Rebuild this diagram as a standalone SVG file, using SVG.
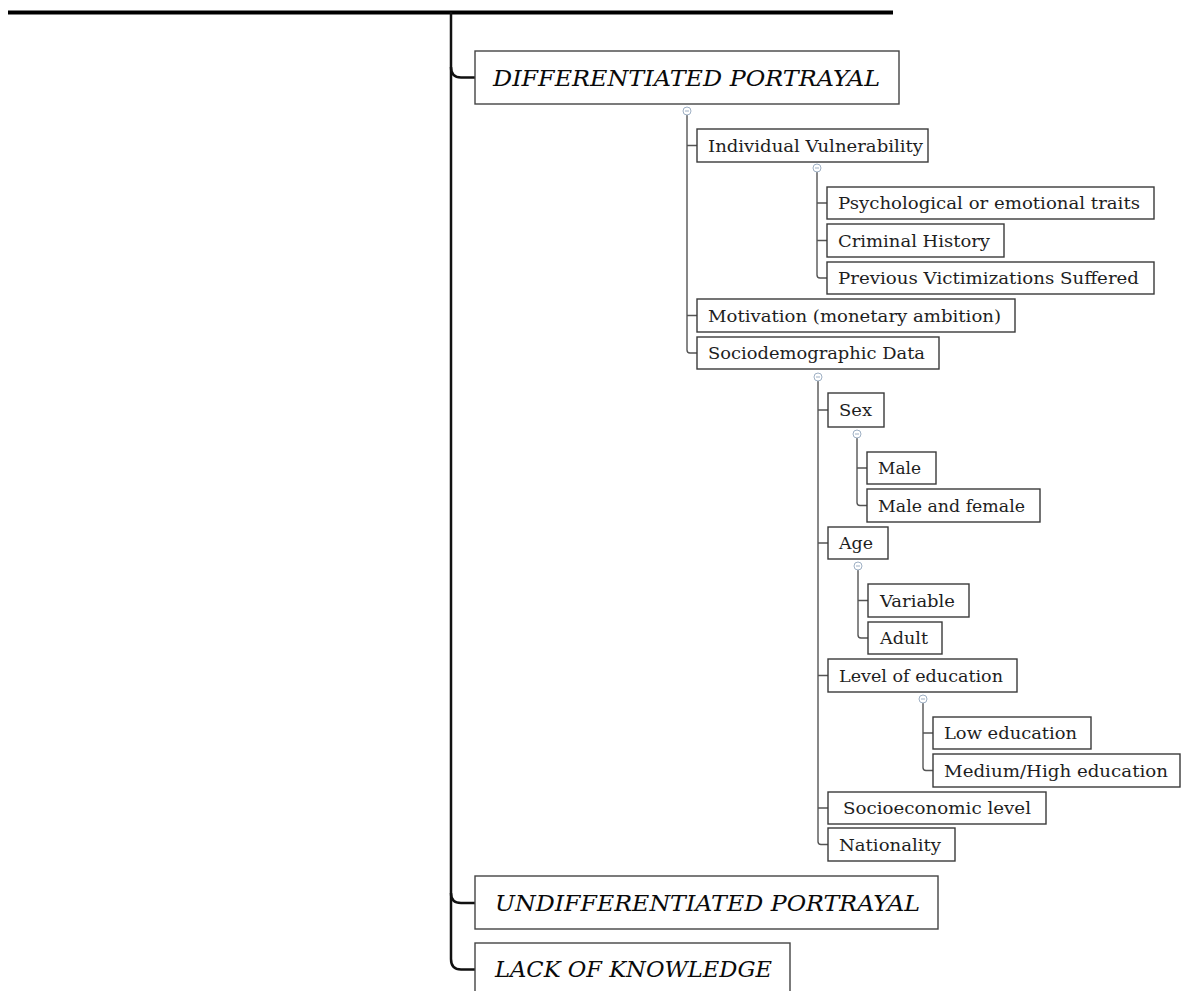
<svg xmlns="http://www.w3.org/2000/svg" width="1181" height="991" viewBox="0 0 1181 991">
<style>
.box{fill:#fff;stroke:#3a3a3a;stroke-width:1.4}
.big{fill:#fff;stroke:#444;stroke-width:1.4}
.t{font-family:"DejaVu Serif","Liberation Serif",serif;font-size:17px;fill:#1e1e1e}
.h{font-family:"DejaVu Serif","Liberation Serif",serif;font-size:23px;font-style:italic;fill:#0a0a0a}
.trunk{fill:none;stroke:#111;stroke-width:2.5}
.ln{fill:none;stroke:#555;stroke-width:1.4}
.cc{fill:#fff;stroke:#9fb0c4;stroke-width:1}
.cm{stroke:#9fb0c4;stroke-width:1}
</style>
<rect width="1181" height="991" fill="#fff"/>
<g id="connectors">
<line x1="8" y1="12.5" x2="893" y2="12.5" stroke="#000" stroke-width="4"/>
<path class="trunk" d="M451 12 V959 Q451 969.5 461 969.5 H475"/>
<path class="trunk" d="M451 67 Q451 77.5 461 77.5 H475"/>
<path class="trunk" d="M451 893 Q451 903 461 903 H475"/>
<path class="ln" d="M687 115 V350 Q687 353 690 353 H697 M687 145.5 H697 M687 315.5 H697"/>
<path class="ln" d="M817 172 V275 Q817 278 820 278 H827 M817 203 H827 M817 240.5 H827"/>
<path class="ln" d="M818 381 V841.5 Q818 844.5 821 844.5 H828 M818 410 H828 M818 543 H828 M818 675.5 H828 M818 808 H828"/>
<path class="ln" d="M857 438 V502.5 Q857 505.5 860 505.5 H867 M857 468 H867"/>
<path class="ln" d="M858 570 V635 Q858 638 861 638 H868 M858 600.5 H868"/>
<path class="ln" d="M923 703 V767.5 Q923 770.5 926 770.5 H933 M923 733 H933"/>
<g>
<circle class="cc" cx="687" cy="111" r="4"/><line class="cm" x1="685" y1="111" x2="689" y2="111"/>
<circle class="cc" cx="817" cy="168" r="4"/><line class="cm" x1="815" y1="168" x2="819" y2="168"/>
<circle class="cc" cx="818" cy="377" r="4"/><line class="cm" x1="816" y1="377" x2="820" y2="377"/>
<circle class="cc" cx="857" cy="434" r="4"/><line class="cm" x1="855" y1="434" x2="859" y2="434"/>
<circle class="cc" cx="858" cy="566" r="4"/><line class="cm" x1="856" y1="566" x2="860" y2="566"/>
<circle class="cc" cx="923" cy="699" r="4"/><line class="cm" x1="921" y1="699" x2="925" y2="699"/>
</g>
</g>
<g id="n-diff"><rect class="big" x="475" y="51" width="424" height="53"/><text class="h" x="493" y="86" textLength="387" lengthAdjust="spacingAndGlyphs">DIFFERENTIATED PORTRAYAL</text></g>
<g id="n-iv"><rect class="box" x="697" y="129" width="231" height="33"/><text class="t" x="708" y="151.5" textLength="215" lengthAdjust="spacingAndGlyphs">Individual Vulnerability</text></g>
<g id="n-psych"><rect class="box" x="827" y="187" width="327" height="32"/><text class="t" x="838" y="209" textLength="302" lengthAdjust="spacingAndGlyphs">Psychological or emotional traits</text></g>
<g id="n-crim"><rect class="box" x="827" y="224" width="177" height="33"/><text class="t" x="838" y="246.5" textLength="152" lengthAdjust="spacingAndGlyphs">Criminal History</text></g>
<g id="n-prev"><rect class="box" x="827" y="262" width="327" height="32"/><text class="t" x="838" y="284" textLength="301" lengthAdjust="spacingAndGlyphs">Previous Victimizations Suffered</text></g>
<g id="n-motiv"><rect class="box" x="697" y="299" width="318" height="33"/><text class="t" x="708" y="321.5" textLength="293" lengthAdjust="spacingAndGlyphs">Motivation (monetary ambition)</text></g>
<g id="n-socio"><rect class="box" x="697" y="337" width="242" height="32"/><text class="t" x="708" y="359" textLength="217" lengthAdjust="spacingAndGlyphs">Sociodemographic Data</text></g>
<g id="n-sex"><rect class="box" x="828" y="393" width="56" height="34"/><text class="t" x="839" y="416" textLength="33" lengthAdjust="spacingAndGlyphs">Sex</text></g>
<g id="n-male"><rect class="box" x="867" y="452" width="69" height="32"/><text class="t" x="878" y="474" textLength="43" lengthAdjust="spacingAndGlyphs">Male</text></g>
<g id="n-mf"><rect class="box" x="867" y="489" width="173" height="33"/><text class="t" x="878" y="511.5" textLength="147" lengthAdjust="spacingAndGlyphs">Male and female</text></g>
<g id="n-age"><rect class="box" x="828" y="527" width="60" height="32"/><text class="t" x="839" y="549" textLength="34" lengthAdjust="spacingAndGlyphs">Age</text></g>
<g id="n-var"><rect class="box" x="868" y="584" width="101" height="33"/><text class="t" x="880" y="606.5" textLength="75" lengthAdjust="spacingAndGlyphs">Variable</text></g>
<g id="n-adult"><rect class="box" x="868" y="622" width="74" height="32"/><text class="t" x="880" y="644" textLength="48" lengthAdjust="spacingAndGlyphs">Adult</text></g>
<g id="n-loe"><rect class="box" x="828" y="659" width="189" height="33"/><text class="t" x="839" y="681.5" textLength="164" lengthAdjust="spacingAndGlyphs">Level of education</text></g>
<g id="n-low"><rect class="box" x="933" y="717" width="158" height="32"/><text class="t" x="944" y="739" textLength="133" lengthAdjust="spacingAndGlyphs">Low education</text></g>
<g id="n-med"><rect class="box" x="933" y="754" width="247" height="33"/><text class="t" x="944" y="776.5" textLength="224" lengthAdjust="spacingAndGlyphs">Medium/High education</text></g>
<g id="n-ses"><rect class="box" x="828" y="792" width="218" height="32"/><text class="t" x="843" y="814" textLength="188" lengthAdjust="spacingAndGlyphs">Socioeconomic level</text></g>
<g id="n-nat"><rect class="box" x="828" y="828" width="127" height="33"/><text class="t" x="839" y="850.5" textLength="102" lengthAdjust="spacingAndGlyphs">Nationality</text></g>
<g id="n-undiff"><rect class="big" x="475" y="876" width="463" height="53"/><text class="h" x="495" y="911" textLength="425" lengthAdjust="spacingAndGlyphs">UNDIFFERENTIATED PORTRAYAL</text></g>
<g id="n-lack"><rect class="big" x="475" y="943" width="315" height="53"/><text class="h" x="495" y="977" textLength="277" lengthAdjust="spacingAndGlyphs">LACK OF KNOWLEDGE</text></g>
</svg>
